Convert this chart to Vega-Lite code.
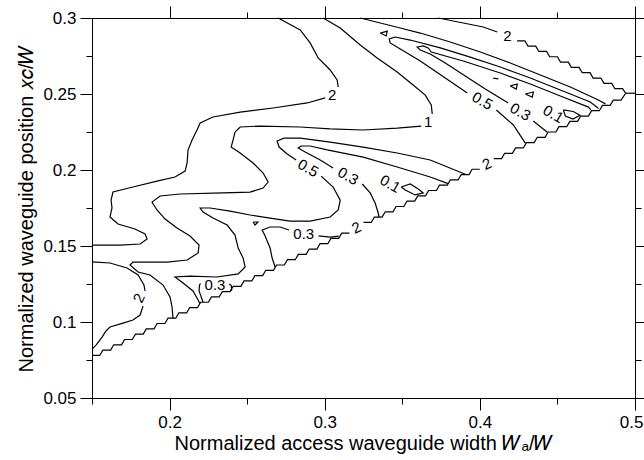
{
"$schema":"https://vega.github.io/schema/vega-lite/v6.json",
"width":543,"height":380,
"autosize":{"type":"none"},
"padding":{"left":92,"top":18,"right":9,"bottom":62},
"background":"white",
"config":{
 "axis":{"labelFont":"Liberation Sans","labelFontSize":17,"labelColor":"black","titleFont":"Liberation Sans","titleFontSize":20,"titleFontWeight":"normal","titleColor":"black","tickColor":"black","domainColor":"black","tickWidth":1,"domainWidth":1,"grid":false,"labelFlush":false,"labelOverlap":false},
 "view":{"stroke":null},
 "text":{"font":"Liberation Sans","fontSize":15,"fill":"black"}
},
"datasets":{
"lines":[
{"s":"A1","x":0.270,"y":0.300},{"s":"A1","x":0.2842,"y":0.2921},{"s":"A1","x":0.2906,"y":0.2836},{"s":"A1","x":0.2958,"y":0.2737},{"s":"A1","x":0.3035,"y":0.2658},{"s":"A1","x":0.3080,"y":0.2592},{"s":"A1","x":0.3087,"y":0.2546},
{"s":"A2","x":0.3003,"y":0.2474},{"s":"A2","x":0.2887,"y":0.2441},{"s":"A2","x":0.2667,"y":0.2408},{"s":"A2","x":0.2455,"y":0.2381},{"s":"A2","x":0.2280,"y":0.2349},{"s":"A2","x":0.2197,"y":0.2309},{"s":"A2","x":0.2177,"y":0.2263},{"s":"A2","x":0.2145,"y":0.2197},{"s":"A2","x":0.2119,"y":0.2131},{"s":"A2","x":0.2113,"y":0.2046},{"s":"A2","x":0.2100,"y":0.1993},{"s":"A2","x":0.2035,"y":0.1954},{"s":"A2","x":0.1919,"y":0.1927},{"s":"A2","x":0.1764,"y":0.1888},{"s":"A2","x":0.1635,"y":0.1855},{"s":"A2","x":0.1623,"y":0.1802},{"s":"A2","x":0.1629,"y":0.1750},{"s":"A2","x":0.1616,"y":0.1691},{"s":"A2","x":0.1668,"y":0.1645},{"s":"A2","x":0.1777,"y":0.1612},{"s":"A2","x":0.1842,"y":0.1579},{"s":"A2","x":0.1855,"y":0.1546},{"s":"A2","x":0.1810,"y":0.1513},{"s":"A2","x":0.1681,"y":0.1506},{"s":"A2","x":0.150,"y":0.1506},
{"s":"B1","x":0.2990,"y":0.300},{"s":"B1","x":0.3100,"y":0.2934},{"s":"B1","x":0.3229,"y":0.2822},{"s":"B1","x":0.3338,"y":0.2737},{"s":"B1","x":0.3467,"y":0.2645},{"s":"B1","x":0.3570,"y":0.2559},{"s":"B1","x":0.3648,"y":0.2493},{"s":"B1","x":0.3687,"y":0.2428},{"s":"B1","x":0.3693,"y":0.2368},
{"s":"B2","x":0.3622,"y":0.2289},{"s":"B2","x":0.3467,"y":0.2276},{"s":"B2","x":0.3248,"y":0.2263},{"s":"B2","x":0.3035,"y":0.2270},{"s":"B2","x":0.2842,"y":0.2283},{"s":"B2","x":0.2584,"y":0.2289},{"s":"B2","x":0.2455,"y":0.2283},{"s":"B2","x":0.2422,"y":0.2250},{"s":"B2","x":0.2409,"y":0.2197},{"s":"B2","x":0.2397,"y":0.2151},{"s":"B2","x":0.2455,"y":0.2112},{"s":"B2","x":0.2538,"y":0.2046},{"s":"B2","x":0.2603,"y":0.1980},{"s":"B2","x":0.2635,"y":0.1921},{"s":"B2","x":0.2603,"y":0.1881},{"s":"B2","x":0.2519,"y":0.1855},{"s":"B2","x":0.2345,"y":0.1849},{"s":"B2","x":0.2068,"y":0.1842},{"s":"B2","x":0.1939,"y":0.1829},{"s":"B2","x":0.1887,"y":0.1789},{"s":"B2","x":0.1919,"y":0.1737},{"s":"B2","x":0.1971,"y":0.1677},{"s":"B2","x":0.2048,"y":0.1618},{"s":"B2","x":0.2132,"y":0.1566},{"s":"B2","x":0.2190,"y":0.1506},{"s":"B2","x":0.2184,"y":0.1454},{"s":"B2","x":0.2113,"y":0.1408},{"s":"B2","x":0.1984,"y":0.1394},{"s":"B2","x":0.1842,"y":0.1394},{"s":"B2","x":0.1764,"y":0.1394},{"s":"B2","x":0.1745,"y":0.1375},{"s":"B2","x":0.1797,"y":0.1329},{"s":"B2","x":0.1874,"y":0.1309},{"s":"B2","x":0.1958,"y":0.1243},{"s":"B2","x":0.2003,"y":0.1164},{"s":"B2","x":0.2016,"y":0.1098},{"s":"B2","x":0.2022,"y":0.1025},
{"s":"C1","x":0.391,"y":0.197},{"s":"C1","x":0.3680,"y":0.2066},{"s":"C1","x":0.3467,"y":0.2112},{"s":"C1","x":0.3248,"y":0.2151},{"s":"C1","x":0.3035,"y":0.2184},{"s":"C1","x":0.2842,"y":0.2210},{"s":"C1","x":0.2738,"y":0.2210},{"s":"C1","x":0.2693,"y":0.2191},{"s":"C1","x":0.2706,"y":0.2151},{"s":"C1","x":0.2758,"y":0.2105},{"s":"C1","x":0.2816,"y":0.2066},
{"s":"C2","x":0.2977,"y":0.1960},{"s":"C2","x":0.3054,"y":0.1888},{"s":"C2","x":0.3100,"y":0.1802},{"s":"C2","x":0.3087,"y":0.1737},{"s":"C2","x":0.3035,"y":0.1691},{"s":"C2","x":0.2906,"y":0.1664},{"s":"C2","x":0.2777,"y":0.1664},{"s":"C2","x":0.2648,"y":0.1684},{"s":"C2","x":0.2519,"y":0.1704},{"s":"C2","x":0.2390,"y":0.1730},{"s":"C2","x":0.2261,"y":0.1750},{"s":"C2","x":0.2197,"y":0.1750},{"s":"C2","x":0.2216,"y":0.1723},{"s":"C2","x":0.2280,"y":0.1684},{"s":"C2","x":0.2371,"y":0.1638},{"s":"C2","x":0.2422,"y":0.1572},{"s":"C2","x":0.2442,"y":0.1487},{"s":"C2","x":0.2474,"y":0.1421},{"s":"C2","x":0.2487,"y":0.1362},{"s":"C2","x":0.2442,"y":0.1316},{"s":"C2","x":0.2306,"y":0.1296},{"s":"C2","x":0.2132,"y":0.1302},{"s":"C2","x":0.2035,"y":0.1296},{"s":"C2","x":0.2087,"y":0.1257},{"s":"C2","x":0.2151,"y":0.1204},{"s":"C2","x":0.2184,"y":0.1145},{"s":"C2","x":0.2195,"y":0.112},
{"s":"D1","x":0.3796,"y":0.191},{"s":"D1","x":0.3680,"y":0.1954},{"s":"D1","x":0.3467,"y":0.2020},{"s":"D1","x":0.3248,"y":0.2085},{"s":"D1","x":0.3016,"y":0.2132},{"s":"D1","x":0.2906,"y":0.2158},{"s":"D1","x":0.2848,"y":0.2158},{"s":"D1","x":0.2829,"y":0.2145},{"s":"D1","x":0.2874,"y":0.2118},{"s":"D1","x":0.2971,"y":0.2066},{"s":"D1","x":0.3054,"y":0.2013},
{"s":"D2","x":0.3242,"y":0.1908},{"s":"D2","x":0.3293,"y":0.1849},{"s":"D2","x":0.3325,"y":0.1783},{"s":"D2","x":0.3345,"y":0.1717},{"s":"D2","x":0.335,"y":0.169},
{"s":"E","x":0.3493,"y":0.1888},{"s":"E","x":0.3551,"y":0.1908},{"s":"E","x":0.3603,"y":0.1875},{"s":"E","x":0.3635,"y":0.1849},{"s":"E","x":0.3583,"y":0.1836},{"s":"E","x":0.3519,"y":0.1868},{"s":"E","x":0.3493,"y":0.1888},
{"s":"F1","x":0.2681,"y":0.136},{"s":"F1","x":0.2661,"y":0.1421},{"s":"F1","x":0.2648,"y":0.1487},{"s":"F1","x":0.2616,"y":0.1566},{"s":"F1","x":0.2597,"y":0.1605},{"s":"F1","x":0.2648,"y":0.1625},{"s":"F1","x":0.2712,"y":0.1625},{"s":"F1","x":0.2770,"y":0.1605},
{"s":"F2","x":0.2960,"y":0.1566},{"s":"F2","x":0.3035,"y":0.1559},{"s":"F2","x":0.309,"y":0.1565},
{"s":"G1","x":0.2216,"y":0.113},{"s":"G1","x":0.2190,"y":0.1205},{"s":"G1","x":0.2193,"y":0.1245},{"s":"G1","x":0.2200,"y":0.1252},
{"s":"G2","x":0.2385,"y":0.1250},{"s":"G2","x":0.2398,"y":0.1240},{"s":"G2","x":0.2400,"y":0.1205},
{"s":"T1","x":0.2538,"y":0.1658},{"s":"T1","x":0.2570,"y":0.1658},{"s":"T1","x":0.2551,"y":0.1638},{"s":"T1","x":0.2538,"y":0.1658},
{"s":"K1","x":0.150,"y":0.1395},{"s":"K1","x":0.1616,"y":0.1388},{"s":"K1","x":0.1726,"y":0.1355},{"s":"K1","x":0.1797,"y":0.1309},{"s":"K1","x":0.1835,"y":0.1243},{"s":"K1","x":0.1842,"y":0.1204},
{"s":"K2","x":0.1829,"y":0.1105},{"s":"K2","x":0.1810,"y":0.1046},{"s":"K2","x":0.1764,"y":0.1013},{"s":"K2","x":0.1700,"y":0.0993},{"s":"K2","x":0.1616,"y":0.0967},{"s":"K2","x":0.1590,"y":0.0941},{"s":"K2","x":0.1565,"y":0.0901},{"s":"K2","x":0.1526,"y":0.0848},{"s":"K2","x":0.150,"y":0.0822},
{"s":"X","x":0.3229,"y":0.300},{"s":"X","x":0.3358,"y":0.2967},{"s":"X","x":0.3487,"y":0.2934},{"s":"X","x":0.3616,"y":0.2901},{"s":"X","x":0.3809,"y":0.2842},{"s":"X","x":0.4003,"y":0.2776},{"s":"X","x":0.4196,"y":0.2704},{"s":"X","x":0.4390,"y":0.2625},{"s":"X","x":0.4583,"y":0.2546},{"s":"X","x":0.4764,"y":0.2460},{"s":"X","x":0.481,"y":0.2435},
{"s":"H1a","x":0.4293,"y":0.2177},{"s":"H1a","x":0.4216,"y":0.2296},{"s":"H1a","x":0.4106,"y":0.2395},
{"s":"H1b","x":0.3919,"y":0.2507},{"s":"H1b","x":0.3777,"y":0.2605},{"s":"H1b","x":0.3616,"y":0.2717},{"s":"H1b","x":0.3487,"y":0.2796},{"s":"H1b","x":0.3422,"y":0.2836},{"s":"H1b","x":0.3416,"y":0.2862},{"s":"H1b","x":0.3454,"y":0.2875},{"s":"H1b","x":0.3551,"y":0.2855},{"s":"H1b","x":0.3745,"y":0.2803},{"s":"H1b","x":0.3938,"y":0.2743},{"s":"H1b","x":0.4132,"y":0.2678},{"s":"H1b","x":0.4325,"y":0.2605},{"s":"H1b","x":0.4519,"y":0.2526},{"s":"H1b","x":0.4712,"y":0.2447},{"s":"H1b","x":0.4765,"y":0.2405},
{"s":"H2a","x":0.4435,"y":0.2248},{"s":"H2a","x":0.4344,"y":0.2322},
{"s":"H2b","x":0.4183,"y":0.2441},{"s":"H2b","x":0.4035,"y":0.2533},{"s":"H2b","x":0.3906,"y":0.2618},{"s":"H2b","x":0.3777,"y":0.2704},{"s":"H2b","x":0.3680,"y":0.2763},{"s":"H2b","x":0.3616,"y":0.2789},{"s":"H2b","x":0.3596,"y":0.2809},{"s":"H2b","x":0.3635,"y":0.2816},{"s":"H2b","x":0.3667,"y":0.2803},{"s":"H2b","x":0.3687,"y":0.2776},{"s":"H2b","x":0.3893,"y":0.2717},{"s":"H2b","x":0.4132,"y":0.2638},{"s":"H2b","x":0.4325,"y":0.2566},{"s":"H2b","x":0.4519,"y":0.2487},{"s":"H2b","x":0.4700,"y":0.2414},{"s":"H2b","x":0.4715,"y":0.2395},
{"s":"P1","x":0.4086,"y":0.2605},{"s":"P1","x":0.4119,"y":0.2599},
{"s":"P2","x":0.4196,"y":0.2553},{"s":"P2","x":0.4241,"y":0.2566},{"s":"P2","x":0.4235,"y":0.2533},{"s":"P2","x":0.4196,"y":0.2553},
{"s":"P3","x":0.4293,"y":0.2500},{"s":"P3","x":0.4345,"y":0.2513},{"s":"P3","x":0.4338,"y":0.2480},{"s":"P3","x":0.4293,"y":0.2500},
{"s":"P4","x":0.4538,"y":0.2395},{"s":"P4","x":0.4602,"y":0.2385},{"s":"P4","x":0.4645,"y":0.2360},{"s":"P4","x":0.4600,"y":0.2335},{"s":"P4","x":0.4551,"y":0.2355},{"s":"P4","x":0.4538,"y":0.2395},
{"s":"T2","x":0.3358,"y":0.2901},{"s":"T2","x":0.3403,"y":0.2914},{"s":"T2","x":0.3396,"y":0.2882},{"s":"T2","x":0.3358,"y":0.2901},
{"s":"U1","x":0.3732,"y":0.300},{"s":"U1","x":0.3893,"y":0.2967},{"s":"U1","x":0.4022,"y":0.2941},{"s":"U1","x":0.4112,"y":0.2908},
{"s":"U2","x":0.424,"y":0.285},{"s":"U2","x":0.429,"y":0.285},{"s":"U2","x":0.431,"y":0.2815},{"s":"U2","x":0.436,"y":0.2815},{"s":"U2","x":0.438,"y":0.278},{"s":"U2","x":0.443,"y":0.278},{"s":"U2","x":0.445,"y":0.2745},{"s":"U2","x":0.450,"y":0.2745},{"s":"U2","x":0.452,"y":0.271},{"s":"U2","x":0.457,"y":0.271},{"s":"U2","x":0.459,"y":0.2675},{"s":"U2","x":0.464,"y":0.2675},{"s":"U2","x":0.466,"y":0.264},{"s":"U2","x":0.471,"y":0.264},{"s":"U2","x":0.473,"y":0.2605},{"s":"U2","x":0.478,"y":0.2605},{"s":"U2","x":0.480,"y":0.257},{"s":"U2","x":0.485,"y":0.257},{"s":"U2","x":0.487,"y":0.2535},{"s":"U2","x":0.492,"y":0.2535},{"s":"U2","x":0.494,"y":0.2505},
{"s":"R","x":0.494,"y":0.2505},{"s":"R","x":0.500,"y":0.2505},
{"s":"L1","x":0.150,"y":0.078},{"s":"L1","x":0.155,"y":0.078},{"s":"L1","x":0.157,"y":0.0815},{"s":"L1","x":0.162,"y":0.0815},{"s":"L1","x":0.164,"y":0.085},{"s":"L1","x":0.169,"y":0.085},{"s":"L1","x":0.171,"y":0.0885},{"s":"L1","x":0.176,"y":0.0885},{"s":"L1","x":0.178,"y":0.092},{"s":"L1","x":0.183,"y":0.092},{"s":"L1","x":0.185,"y":0.0955},{"s":"L1","x":0.190,"y":0.0955},{"s":"L1","x":0.192,"y":0.099},{"s":"L1","x":0.197,"y":0.099},{"s":"L1","x":0.199,"y":0.1025},{"s":"L1","x":0.204,"y":0.1025},{"s":"L1","x":0.206,"y":0.106},{"s":"L1","x":0.211,"y":0.106},{"s":"L1","x":0.213,"y":0.1095},{"s":"L1","x":0.218,"y":0.1095},{"s":"L1","x":0.220,"y":0.113},{"s":"L1","x":0.225,"y":0.113},{"s":"L1","x":0.227,"y":0.1165},{"s":"L1","x":0.232,"y":0.1165},{"s":"L1","x":0.234,"y":0.120},{"s":"L1","x":0.239,"y":0.120},{"s":"L1","x":0.241,"y":0.1235},{"s":"L1","x":0.246,"y":0.1235},{"s":"L1","x":0.248,"y":0.127},{"s":"L1","x":0.253,"y":0.127},{"s":"L1","x":0.255,"y":0.1305},{"s":"L1","x":0.260,"y":0.1305},{"s":"L1","x":0.262,"y":0.134},{"s":"L1","x":0.267,"y":0.134},{"s":"L1","x":0.269,"y":0.1375},{"s":"L1","x":0.274,"y":0.1375},{"s":"L1","x":0.276,"y":0.141},{"s":"L1","x":0.281,"y":0.141},{"s":"L1","x":0.283,"y":0.1445},{"s":"L1","x":0.288,"y":0.1445},{"s":"L1","x":0.290,"y":0.148},{"s":"L1","x":0.295,"y":0.148},{"s":"L1","x":0.297,"y":0.1515},{"s":"L1","x":0.302,"y":0.1515},{"s":"L1","x":0.304,"y":0.155},{"s":"L1","x":0.309,"y":0.155},{"s":"L1","x":0.311,"y":0.1585},{"s":"L1","x":0.316,"y":0.1585},
{"s":"L2","x":0.325,"y":0.1655},{"s":"L2","x":0.330,"y":0.1655},{"s":"L2","x":0.332,"y":0.169},{"s":"L2","x":0.337,"y":0.169},{"s":"L2","x":0.339,"y":0.1725},{"s":"L2","x":0.344,"y":0.1725},{"s":"L2","x":0.346,"y":0.176},{"s":"L2","x":0.351,"y":0.176},{"s":"L2","x":0.353,"y":0.1795},{"s":"L2","x":0.358,"y":0.1795},{"s":"L2","x":0.360,"y":0.183},{"s":"L2","x":0.365,"y":0.183},{"s":"L2","x":0.367,"y":0.1865},{"s":"L2","x":0.372,"y":0.1865},{"s":"L2","x":0.374,"y":0.190},{"s":"L2","x":0.379,"y":0.190},{"s":"L2","x":0.381,"y":0.1935},{"s":"L2","x":0.386,"y":0.1935},{"s":"L2","x":0.388,"y":0.197},{"s":"L2","x":0.393,"y":0.197},{"s":"L2","x":0.395,"y":0.2005},{"s":"L2","x":0.400,"y":0.2005},
{"s":"L3","x":0.409,"y":0.2075},{"s":"L3","x":0.414,"y":0.2075},{"s":"L3","x":0.416,"y":0.211},{"s":"L3","x":0.421,"y":0.211},{"s":"L3","x":0.423,"y":0.2145},{"s":"L3","x":0.428,"y":0.2145},{"s":"L3","x":0.430,"y":0.218},{"s":"L3","x":0.435,"y":0.218},{"s":"L3","x":0.437,"y":0.2215},{"s":"L3","x":0.442,"y":0.2215},{"s":"L3","x":0.444,"y":0.225},{"s":"L3","x":0.449,"y":0.225},{"s":"L3","x":0.451,"y":0.2285},{"s":"L3","x":0.456,"y":0.2285},{"s":"L3","x":0.458,"y":0.232},{"s":"L3","x":0.463,"y":0.232},{"s":"L3","x":0.465,"y":0.2355},{"s":"L3","x":0.470,"y":0.2355},{"s":"L3","x":0.472,"y":0.239},{"s":"L3","x":0.477,"y":0.239},{"s":"L3","x":0.479,"y":0.2425},{"s":"L3","x":0.484,"y":0.2425},{"s":"L3","x":0.486,"y":0.246},{"s":"L3","x":0.491,"y":0.246},{"s":"L3","x":0.494,"y":0.2505}
],
"lab0":[{"t":"2","x":0.3048,"y":0.2493},{"t":"1","x":0.3667,"y":0.2316},{"t":"0.3","x":0.2865,"y":0.1579},{"t":"0.3","x":0.2293,"y":0.1245},{"t":"2","x":0.4177,"y":0.2882}],
"lab30":[{"t":"0.5","x":0.2893,"y":0.2013},{"t":"0.3","x":0.3151,"y":0.1960},{"t":"0.1","x":0.3422,"y":0.1908},{"t":"0.5","x":0.4016,"y":0.2454},{"t":"0.3","x":0.4261,"y":0.2382},{"t":"0.1","x":0.4474,"y":0.2368}],
"labm25":[{"t":"2","x":0.3205,"y":0.162},{"t":"2","x":0.4045,"y":0.204}],
"labm65":[{"t":"2","x":0.1803,"y":0.1158}]
},
"layer":[
{"data":{"name":"lines"},
 "mark":{"type":"line","stroke":"black","strokeWidth":1.2},
 "encoding":{
  "x":{"field":"x","type":"quantitative","scale":{"domain":[0.15,0.5],"nice":false,"zero":false},
   "axis":{"orient":"bottom","values":[0.2,0.3,0.4,0.5],"tickSize":12,"format":"~g",
     "labelPadding":4,"labelFlush":true,"labelFlushOffset":8,
     "title":"Normalized access waveguide width 𝑊ₐ/𝑊","titlePadding":3}},
  "y":{"field":"y","type":"quantitative","scale":{"domain":[0.05,0.3],"nice":false,"zero":false},
   "axis":{"orient":"left","values":[0.05,0.1,0.15,0.2,0.25,0.3],"tickSize":12,"format":"~g",
     "labelPadding":4,"title":"Normalized waveguide position 𝑥𝑐/𝑊","titlePadding":6}},
  "detail":{"field":"s","type":"nominal"},
  "order":{"value":null}
 }},
{"data":{"name":"lab0"},
 "mark":{"type":"text","align":"center","baseline":"middle"},
 "encoding":{
  "x":{"field":"x","type":"quantitative","scale":{"domain":[0.15,0.5],"nice":false,"zero":false},
   "axis":{"orient":"top","values":[0.2,0.3,0.4,0.5],"tickSize":12,"labels":false,"title":null}},
  "y":{"field":"y","type":"quantitative","scale":{"domain":[0.05,0.3],"nice":false,"zero":false},
   "axis":{"orient":"right","values":[0.05,0.1,0.15,0.2,0.25,0.3],"tickSize":12,"labels":false,"title":null}},
  "text":{"field":"t","type":"nominal"}
 }},
{"data":{"name":"lab30"},
 "mark":{"type":"text","align":"center","baseline":"middle","angle":30},
 "encoding":{
  "x":{"field":"x","type":"quantitative","scale":{"domain":[0.15,0.5],"nice":false,"zero":false},
   "axis":{"orient":"bottom","values":[0.15,0.25,0.35,0.45],"tickSize":6,"labels":false,"title":null}},
  "y":{"field":"y","type":"quantitative","scale":{"domain":[0.05,0.3],"nice":false,"zero":false},
   "axis":{"orient":"left","values":[0.075,0.125,0.175,0.225,0.275],"tickSize":6,"labels":false,"title":null}},
  "text":{"field":"t","type":"nominal"}
 }},
{"data":{"name":"labm25"},
 "mark":{"type":"text","align":"center","baseline":"middle","angle":-25},
 "encoding":{
  "x":{"field":"x","type":"quantitative","scale":{"domain":[0.15,0.5],"nice":false,"zero":false},
   "axis":{"orient":"top","values":[0.25,0.35,0.45],"tickSize":6,"labels":false,"title":null}},
  "y":{"field":"y","type":"quantitative","scale":{"domain":[0.05,0.3],"nice":false,"zero":false},
   "axis":{"orient":"right","values":[0.075,0.125,0.175,0.225,0.275],"tickSize":6,"labels":false,"title":null}},
  "text":{"field":"t","type":"nominal"}
 }},
{"data":{"name":"labm65"},
 "mark":{"type":"text","align":"center","baseline":"middle","angle":-65},
 "encoding":{
  "x":{"field":"x","type":"quantitative","scale":{"domain":[0.15,0.5],"nice":false,"zero":false},"axis":null},
  "y":{"field":"y","type":"quantitative","scale":{"domain":[0.05,0.3],"nice":false,"zero":false},"axis":null},
  "text":{"field":"t","type":"nominal"}
 }}
],
"resolve":{"axis":{"x":"independent","y":"independent"}}
}
